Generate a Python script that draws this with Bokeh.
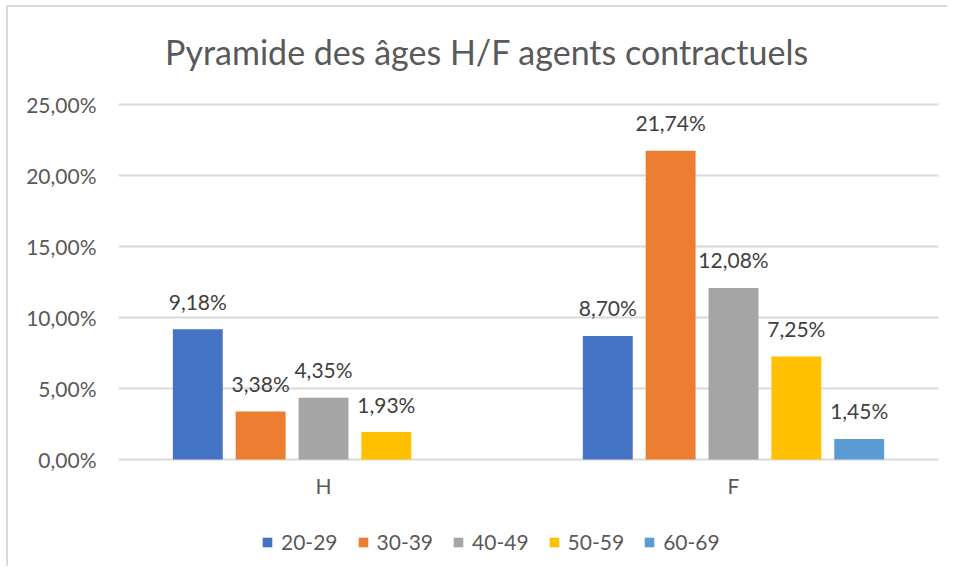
from bokeh.plotting import figure
from bokeh.models import FactorRange, Range1d, ColumnDataSource, Legend, LegendItem, FixedTicker, Label
from bokeh.transform import dodge
from bokeh.core.properties import value
from bokeh.embed import file_html
from bokeh.resources import INLINE

# ---- data ----
groups = ["H", "F"]
series = ["20-29", "30-39", "40-49", "50-59", "60-69"]
h_values = [9.18, 3.38, 4.35, 1.93, None]
f_values = [8.70, 21.74, 12.08, 7.25, 1.45]
colors = ["#4472C4", "#ED7D31", "#A5A5A5", "#FFC000", "#5B9BD5"]
y_ticks = [0, 5, 10, 15, 20, 25]
y_tick_labels = ["0,00%", "5,00%", "10,00%", "15,00%", "20,00%", "25,00%"]
title_text = "Pyramide des âges H/F agents contractuels"

FONT = "Lato"
W, H = 941, 561
LEFT, RIGHT = 110, 11
Y_TOP_PX, Y_ZERO_PX = 97, 452          # canvas rows of the 25 % and 0 % lines
PX_PER_UNIT = (Y_ZERO_PX - Y_TOP_PX) / 25.0
y_end = 25 + Y_TOP_PX / PX_PER_UNIT
y_start = -(H - Y_ZERO_PX) / PX_PER_UNIT

p = figure(width=W, height=H, x_range=FactorRange(*groups), y_range=Range1d(y_start, y_end),
           output_backend="svg", toolbar_location=None, tools="",
           min_border_left=LEFT, min_border_right=RIGHT, min_border_top=0, min_border_bottom=0)

p.outline_line_color = None
p.background_fill_color = "white"
p.border_fill_color = "white"

# title, drawn inside the (full-height) frame
frame_w = W - LEFT - RIGHT
title_x = (368.5 / frame_w) * len(groups)
title_y = 25 + (Y_TOP_PX - 44) / PX_PER_UNIT
p.add_layout(Label(x=title_x, y=title_y, text=title_text, text_align="center",
                   text_baseline="middle", text_font=FONT, text_font_size="34px",
                   text_color="#595959"))

# value axis
p.yaxis.ticker = FixedTicker(ticks=y_ticks)
p.yaxis.major_label_overrides = {t: l for t, l in zip(y_ticks, y_tick_labels)}
p.yaxis.axis_line_color = None
p.yaxis.major_tick_line_color = None
p.yaxis.minor_tick_line_color = None
p.yaxis.major_label_text_font = FONT
p.yaxis.major_label_text_font_size = "21px"
p.yaxis.major_label_text_color = "#595959"
p.yaxis.major_label_standoff = 16

p.xaxis.visible = False
p.xgrid.grid_line_color = None
p.ygrid.grid_line_color = "#d9d9d9"
p.ygrid.grid_line_width = 2

# category labels under the baseline
cat_src = ColumnDataSource(dict(x=groups, y=[0] * len(groups), label=groups))
p.text(x="x", y="y", text="label", source=cat_src, text_align="center",
       text_baseline="middle", y_offset=26, text_font=value(FONT),
       text_font_size="21px", text_color="#595959")

step = 0.1533
bw = 0.1217
items = []
for i, s in enumerate(series):
    xs, tops, labels = [], [], []
    for g, vals in zip(groups, [h_values, f_values]):
        v = vals[i]
        if v is None:
            continue
        xs.append(g)
        tops.append(v)
        labels.append(f"{v:.2f}%".replace(".", ","))
    src = ColumnDataSource(dict(x=xs, top=tops, label=labels))
    off = (i - 2) * step
    r = p.vbar(x=dodge("x", off, range=p.x_range), top="top", width=bw, bottom=0,
               source=src, fill_color=colors[i], line_color=None)
    p.text(x=dodge("x", off, range=p.x_range), y="top", text="label", source=src,
           text_align="center", text_baseline="middle", y_offset=-28,
           text_font=value(FONT), text_font_size="21px", text_color="#404040")
    items.append(LegendItem(label=s, renderers=[r]))

legend = Legend(items=items, orientation="horizontal", location=(143, 14),
                glyph_width=12, glyph_height=12, label_standoff=8, spacing=19,
                label_text_font=FONT, label_text_font_size="21px", label_text_color="#595959",
                border_line_color=None, background_fill_alpha=0, padding=0, margin=0)
p.add_layout(legend, "center")

p.margin = (5, 0, 0, 6)
p.styles = {"border-left": "2px solid #d9d9d9", "border-top": "2px solid #d9d9d9"}

open("out.html", "w").write(file_html(p, INLINE))
